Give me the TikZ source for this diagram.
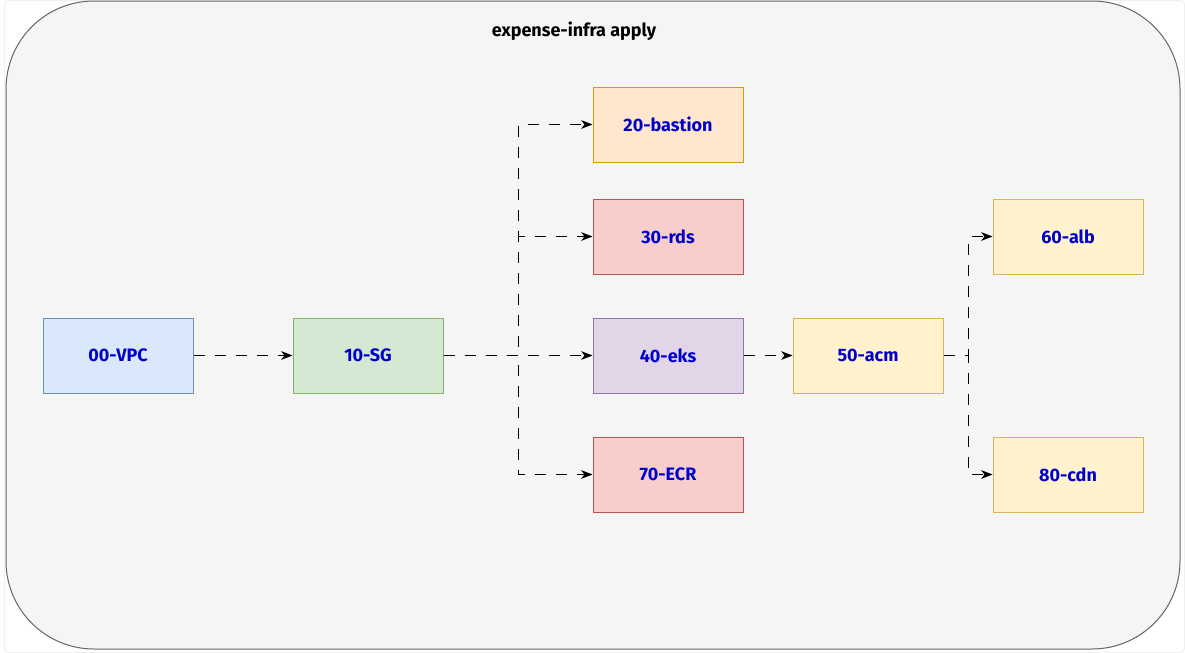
\documentclass[tikz,border=0pt]{standalone}
\usepackage{fontspec}
\setmainfont{Fira Sans}
\usetikzlibrary{arrows.meta}
\definecolor{bgfill}{HTML}{F5F5F5}
\definecolor{bgline}{HTML}{666666}
\definecolor{txtblue}{HTML}{0000CC}
\definecolor{bluef}{HTML}{DAE8FC}\definecolor{bluel}{HTML}{6C8EBF}
\definecolor{greenf}{HTML}{D5E8D4}\definecolor{greenl}{HTML}{82B366}
\definecolor{orangef}{HTML}{FFE6CC}\definecolor{orangel}{HTML}{D79B00}
\definecolor{redf}{HTML}{F8CECC}\definecolor{redl}{HTML}{B85450}
\definecolor{purplef}{HTML}{E1D5E7}\definecolor{purplel}{HTML}{9673A6}
\definecolor{yellowf}{HTML}{FFF2CC}\definecolor{yellowl}{HTML}{D6B656}
\tikzset{
  box/.style={draw, line width=0.75pt, minimum width=112.5pt, minimum height=56.25pt, inner sep=0pt,
    font=\fontsize{13.5pt}{15pt}\selectfont\bfseries, text=txtblue},
  bluebox/.style={box, fill=bluef, draw=bluel},
  greenbox/.style={box, fill=greenf, draw=greenl},
  orangebox/.style={box, fill=orangef, draw=orangel},
  redbox/.style={box, fill=redf, draw=redl},
  purplebox/.style={box, fill=purplef, draw=purplel},
  yellowbox/.style={box, fill=yellowf, draw=yellowl},
  link/.style={line width=0.75pt, draw=black, dash pattern=on 8.25pt off 7.5pt,
    -{Stealth[length=8.5pt,width=6.5pt,inset=2.5pt]}},
}
\begin{document}
\begin{tikzpicture}[x=0.75pt,y=-0.75pt]
\useasboundingbox (0,0) rectangle (1185,653);
\fill[white] (0,0) rectangle (1185,653);
\draw[gray!12, line width=0.75pt, rounded corners=3pt] (4.5,0.5) rectangle (1184.5,652.5);
\draw[fill=bgfill, draw=bgline, line width=0.75pt, rounded corners=66pt] (6,1) rectangle (1180,649);
\node[font=\fontsize{13.5pt}{15pt}\selectfont\bfseries] (title) at (574,31) {expense-infra apply};

\node[bluebox] (vpc) at (118,355.5) {00-VPC};
\node[greenbox] (sg) at (368,355.5) {10-SG};
\node[orangebox] (bastion) at (668,124.5) {20-bastion};
\node[redbox] (rds) at (668,236.5) {30-rds};
\node[purplebox] (eks) at (668,355.5) {40-eks};
\node[redbox] (ecr) at (668,474.5) {70-ECR};
\node[yellowbox] (acm) at (868,355.5) {50-acm};
\node[yellowbox] (alb) at (1068,236.5) {60-alb};
\node[yellowbox] (cdn) at (1068,474.5) {80-cdn};

\draw[link] (vpc) -- (sg);
\draw[link] (sg.east) -- ++(75,0) |- (bastion.west);
\draw[link] (sg.east) -- ++(75,0) |- (rds.west);
\draw[link] (sg) -- (eks);
\draw[link] (sg.east) -- ++(75,0) |- (ecr.west);
\draw[link] (eks) -- (acm);
\draw[link] (acm.east) -- ++(25,0) |- (alb.west);
\draw[link] (acm.east) -- ++(25,0) |- (cdn.west);
\end{tikzpicture}
\end{document}
